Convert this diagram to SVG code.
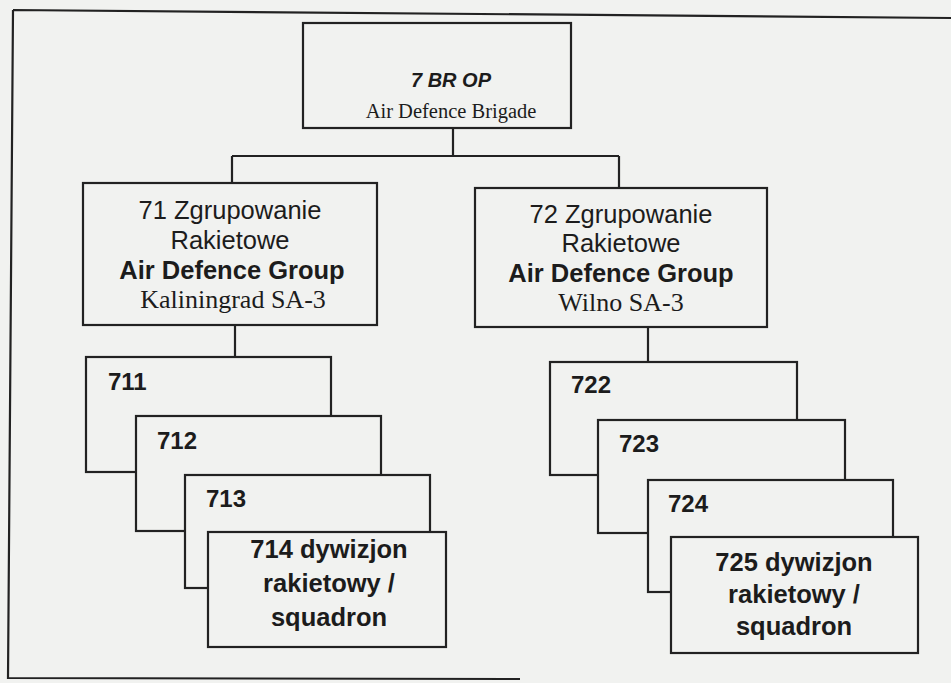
<svg xmlns="http://www.w3.org/2000/svg" width="951" height="683" viewBox="0 0 951 683">
<style>
.bg{fill:#f1f2f0}
.box{fill:#f1f2f0;stroke:#222;stroke-width:2.2}
.ln{fill:none;stroke:#222;stroke-width:2.2}
.a{font-family:"Liberation Sans",Arial,sans-serif;font-size:25.5px;fill:#1c1c1c}
.b{font-family:"Liberation Sans",Arial,sans-serif;font-size:25.5px;font-weight:bold;fill:#1c1c1c}
.t{font-family:"Liberation Serif","Times New Roman",serif;font-size:26px;fill:#1c1c1c}
.c{text-anchor:middle}
.num{font-size:24px}
.hd{font-size:20px;font-style:italic}
.hs{font-size:20.5px}
</style>
<rect class="bg" x="0" y="0" width="951" height="683"/>
<g id="frame">
<path class="ln" d="M13,10 L951,18 M13,10 L8,678 L520,679"/>
</g>
<g id="connectors">
<path class="ln" d="M453,128 V156 M232,156 H619 M232,156 V183 M619,156 V188 M235,325 V357 M648,327 V362"/>
</g>
<g id="n7">
<rect class="box" x="303" y="23" width="268" height="105"/>
<text class="b c hd" x="451" y="87">7 BR OP</text>
<text class="t c hs" x="451" y="118">Air Defence Brigade</text>
</g>
<g id="n71">
<rect class="box" x="83" y="183" width="294" height="142"/>
<text class="a c" x="230" y="219">71 Zgrupowanie</text>
<text class="a c" x="230" y="249">Rakietowe</text>
<text class="b c" x="232" y="279">Air Defence Group</text>
<text class="t c" x="233" y="308">Kaliningrad SA-3</text>
</g>
<g id="n72">
<rect class="box" x="475" y="188" width="292" height="139"/>
<text class="a c" x="621" y="223">72 Zgrupowanie</text>
<text class="a c" x="621" y="252">Rakietowe</text>
<text class="b c" x="621" y="282">Air Defence Group</text>
<text class="t c" x="621" y="311">Wilno SA-3</text>
</g>
<g id="n711">
<rect class="box" x="86" y="357" width="245" height="115"/>
<text class="b num" x="108" y="390">711</text>
</g>
<g id="n712">
<rect class="box" x="136" y="416" width="245" height="115"/>
<text class="b num" x="157" y="449">712</text>
</g>
<g id="n713">
<rect class="box" x="185" y="475" width="245" height="113"/>
<text class="b num" x="206" y="507">713</text>
</g>
<g id="n714">
<rect class="box" x="208" y="532" width="238" height="115"/>
<text class="b c" x="329" y="558">714 dywizjon</text>
<text class="b c" x="329" y="592">rakietowy /</text>
<text class="b c" x="329" y="626">squadron</text>
</g>
<g id="n722">
<rect class="box" x="550" y="362" width="247" height="113"/>
<text class="b num" x="571" y="393">722</text>
</g>
<g id="n723">
<rect class="box" x="598" y="420" width="247" height="113"/>
<text class="b num" x="619" y="452">723</text>
</g>
<g id="n724">
<rect class="box" x="648" y="480" width="245" height="112"/>
<text class="b num" x="668" y="512">724</text>
</g>
<g id="n725">
<rect class="box" x="671" y="537" width="247" height="116"/>
<text class="b c" x="794" y="571">725 dywizjon</text>
<text class="b c" x="794" y="603">rakietowy /</text>
<text class="b c" x="794" y="635">squadron</text>
</g>
</svg>
